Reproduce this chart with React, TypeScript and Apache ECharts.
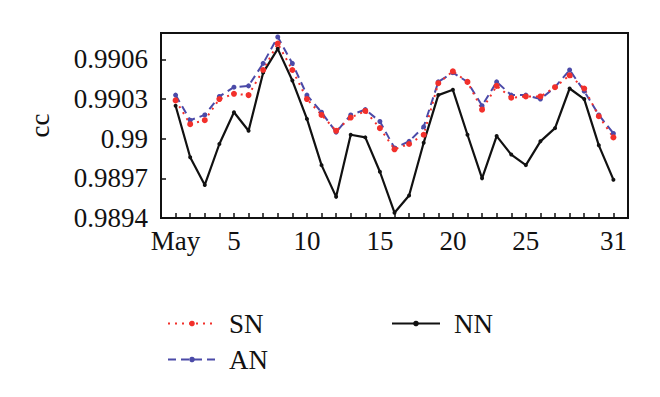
import React, { useEffect, useRef } from "react";
import * as echarts from "echarts";

const days = Array.from({ length: 31 }, (_, i) => i + 1);
const xLabelDays: Record<number, string> = { 1: "May", 5: "5", 10: "10", 15: "15", 20: "20", 25: "25", 31: "31" };

const SN = [0.99029, 0.99011, 0.99014, 0.9903, 0.99034, 0.99033, 0.99052, 0.99072, 0.99052, 0.9903, 0.99018, 0.99006, 0.99016, 0.99021, 0.99008, 0.98992, 0.98996, 0.99003, 0.99042, 0.99051, 0.99043, 0.99022, 0.9904, 0.99031, 0.99032, 0.99032, 0.99039, 0.99048, 0.99038, 0.99017, 0.99001];
const AN = [0.99033, 0.99014, 0.99018, 0.99032, 0.99039, 0.9904, 0.99057, 0.99077, 0.99057, 0.99033, 0.9902, 0.99005, 0.99018, 0.99022, 0.99013, 0.98993, 0.98998, 0.99009, 0.99043, 0.9905, 0.99043, 0.99025, 0.99043, 0.99033, 0.99033, 0.9903, 0.99039, 0.99052, 0.99036, 0.99018, 0.99004];
const NN = [0.99025, 0.98986, 0.98965, 0.98996, 0.9902, 0.99006, 0.9905, 0.99068, 0.99044, 0.99015, 0.9898, 0.98956, 0.99003, 0.99001, 0.98975, 0.98944, 0.98957, 0.98997, 0.99033, 0.99037, 0.99003, 0.9897, 0.99002, 0.98988, 0.9898, 0.98998, 0.99008, 0.99038, 0.9903, 0.98995, 0.98969];

const FONT = "'Liberation Serif', 'DejaVu Serif', serif";
const RED = "#f2302b";
const BLUE = "#4b4aa8";
const BLACK = "#111111";
const FS = 27;

export default function App() {
  const ref = useRef<HTMLDivElement>(null);
  useEffect(() => {
    document.body.style.margin = "0";
    if (!ref.current) return;
    const chart = echarts.init(ref.current, null, { renderer: "svg" });
    const pairs = (arr: number[]) => days.map((d, i) => [d, arr[i]]);
    chart.setOption({
      animation: false,
      backgroundColor: "#ffffff",
      textStyle: { fontFamily: FONT },
      grid: {
        left: 161,
        right: 32,
        top: 33,
        bottom: 179,
        show: true,
        borderColor: "#111",
        borderWidth: 2,
        backgroundColor: "transparent",
      },
      xAxis: {
        type: "value",
        min: 0,
        max: 32,
        interval: 1,
        axisLine: { show: true, lineStyle: { color: "#111", width: 2 } },
        axisTick: { show: true, inside: true, length: 5, lineStyle: { color: "#111", width: 1.5 } },
        splitLine: { show: false },
        axisLabel: {
          margin: 9,
          fontFamily: FONT,
          fontSize: FS,
          color: "#111",
          formatter: (v: number) => xLabelDays[v] ?? "",
        },
      },
      yAxis: {
        type: "value",
        min: 0.9894,
        max: 0.9908,
        interval: 0.0003,
        name: "cc",
        nameLocation: "middle",
        nameRotate: 90,
        nameGap: 108,
        nameTextStyle: { fontFamily: FONT, fontSize: FS, color: "#111" },
        axisLine: { show: true, lineStyle: { color: "#111", width: 2 } },
        axisTick: { show: true, inside: true, length: 5, lineStyle: { color: "#111", width: 1.5 } },
        splitLine: { show: false },
        axisLabel: {
          margin: 13,
          fontFamily: FONT,
          fontSize: FS,
          color: "#111",
          showMaxLabel: false,
          formatter: (v: number) => String(Number(v.toFixed(4))),
        },
      },
      legend: [
        {
          data: ["SN", "AN"],
          orient: "vertical",
          left: 162,
          top: 305,
          itemWidth: 48,
          itemHeight: 7,
          itemGap: 9,
          textStyle: { fontFamily: FONT, fontSize: FS, color: "#111", lineHeight: 27, padding: [0, 0, 0, 8] },
        },
        {
          data: ["NN"],
          orient: "vertical",
          left: 386,
          top: 305,
          itemWidth: 48,
          itemHeight: 7,
          textStyle: { fontFamily: FONT, fontSize: FS, color: "#111", lineHeight: 27, padding: [0, 0, 0, 9] },
        },
      ],
      series: [
        {
          name: "NN",
          type: "line",
          data: pairs(NN),
          symbol: "circle",
          symbolSize: 4,
          itemStyle: { color: BLACK },
          lineStyle: { color: BLACK, width: 2.2 },
        },
        {
          name: "AN",
          type: "line",
          data: pairs(AN),
          symbol: "circle",
          symbolSize: 5,
          itemStyle: { color: BLUE },
          lineStyle: { color: BLUE, width: 2, type: [8, 5] },
        },
        {
          name: "SN",
          type: "line",
          data: pairs(SN),
          symbol: "circle",
          symbolSize: 6,
          itemStyle: { color: RED },
          lineStyle: { color: RED, width: 2, type: [2, 5] },
        },
      ],
    });
    return () => chart.dispose();
  }, []);
  return <div ref={ref} style={{ width: 660, height: 397 }} />;
}
